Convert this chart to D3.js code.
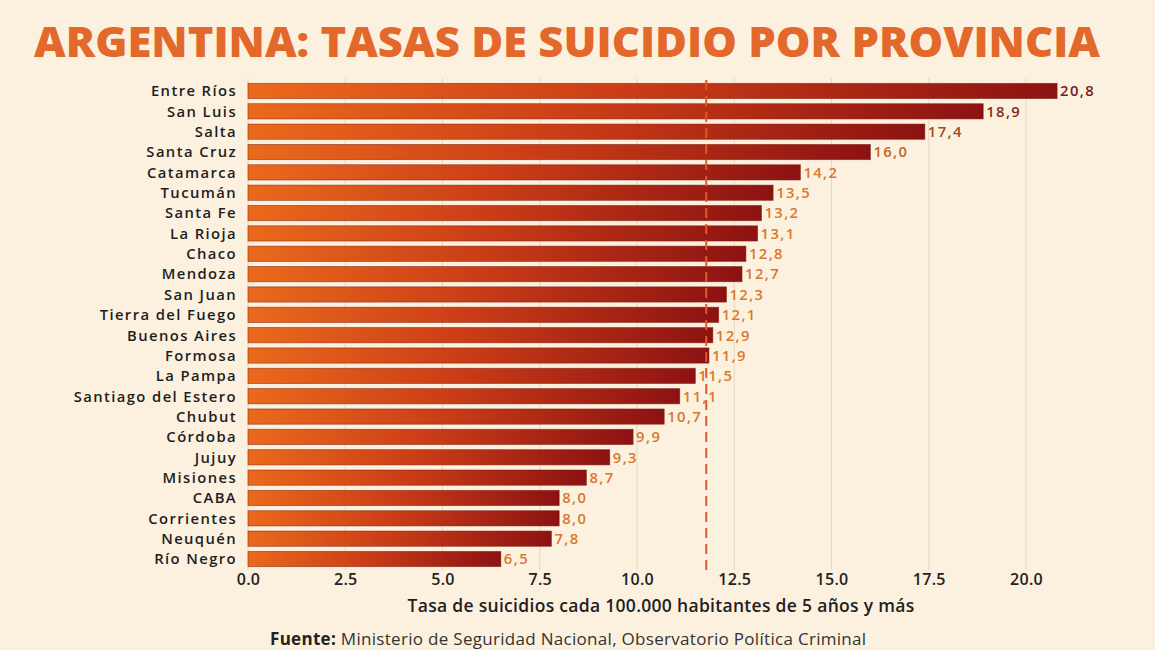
<!DOCTYPE html>
<html>
<head>
<meta charset="utf-8">
<script src="https://cdn.jsdelivr.net/npm/d3@7"></script>
<style>
  html, body { margin: 0; padding: 0; background: #fcf1df; }
  svg { display: block; }
</style>
</head>
<body>
<svg id="chart"></svg>
<script>
// Data
const provinces = ['Entre Ríos', 'San Luis', 'Salta', 'Santa Cruz', 'Catamarca', 'Tucumán', 'Santa Fe',
    'La Rioja', 'Chaco', 'Mendoza', 'San Juan', 'Tierra del Fuego', 'Buenos Aires', 'Formosa', 'La Pampa',
    'Santiago del Estero', 'Chubut', 'Córdoba', 'Jujuy', 'Misiones', 'CABA', 'Corrientes', 'Neuquén', 'Río Negro'];
// bar lengths as drawn
const rates = [20.8, 18.9, 17.4, 16.0, 14.2, 13.5, 13.2, 13.1, 12.8, 12.7, 12.3, 12.1, 11.95, 11.85, 11.5,
    11.1, 10.7, 9.9, 9.3, 8.7, 8.0, 8.0, 7.8, 6.5];
// printed labels (Buenos Aires is printed as 12,9 in the original)
const rateLabels = ['20,8', '18,9', '17,4', '16,0', '14,2', '13,5', '13,2', '13,1', '12,8', '12,7', '12,3', '12,1',
    '12,9', '11,9', '11,5', '11,1', '10,7', '9,9', '9,3', '8,7', '8,0', '8,0', '7,8', '6,5'];
const xTicks = [0, 2.5, 5, 7.5, 10, 12.5, 15, 17.5, 20];
const average = 11.78;

const width = 1155, height = 650;
const svg = d3.select('#chart').attr('width', width).attr('height', height);

svg.append('rect').attr('width', width).attr('height', height).attr('fill', '#fcf1df');

const data = provinces.map((p, i) => ({province: p, rate: rates[i], label: rateLabels[i]}));

// scales
const x = d3.scaleLinear().domain([0, 20]).range([248, 1026]);
const y = d3.scaleBand()
    .domain(provinces)
    .range([80.8, 569.2])
    .paddingInner(0.25)
    .paddingOuter(0.125);

// gradient along each bar
const defs = svg.append('defs');
const grad = defs.append('linearGradient')
    .attr('id', 'barGrad')
    .attr('x1', 0).attr('x2', 1).attr('y1', 0).attr('y2', 0);
grad.append('stop').attr('offset', '0%').attr('stop-color', '#ea6a1c');
grad.append('stop').attr('offset', '45%').attr('stop-color', '#cc3e17');
grad.append('stop').attr('offset', '100%').attr('stop-color', '#8c1212');

// title
svg.append('text')
    .attr('x', 567)
    .attr('y', 57)
    .attr('text-anchor', 'middle')
    .attr('font-family', 'Open Sans, sans-serif')
    .attr('font-weight', 800)
    .attr('font-size', 43)
    .attr('fill', '#e2692b')
    .attr('textLength', 1066)
    .attr('lengthAdjust', 'spacingAndGlyphs')
    .text('ARGENTINA: TASAS DE SUICIDIO POR PROVINCIA');

// grid lines
svg.append('g')
    .selectAll('line')
    .data(xTicks)
    .join('line')
    .attr('x1', d => x(d)).attr('x2', d => x(d))
    .attr('y1', 78).attr('y2', 570)
    .attr('stroke', '#e8d8c0')
    .attr('stroke-width', 1);

// x axis (labels only)
const xAxis = svg.append('g')
    .attr('transform', 'translate(0,570)')
    .call(d3.axisBottom(x).tickValues(xTicks).tickFormat(d3.format('.1f')).tickSize(0).tickPadding(4));
xAxis.select('.domain').remove();
xAxis.selectAll('text')
    .attr('font-family', 'Open Sans, sans-serif')
    .attr('font-weight', 600)
    .attr('font-size', 16)
    .attr('letter-spacing', '0.3')
    .attr('fill', '#222');

// bars
svg.append('g')
    .selectAll('rect')
    .data(data)
    .join('rect')
    .attr('x', x(0))
    .attr('y', d => y(d.province))
    .attr('width', d => x(d.rate) - x(0))
    .attr('height', y.bandwidth())
    .attr('fill', 'url(#barGrad)')
    .attr('stroke', '#7a1a0c')
    .attr('stroke-opacity', 0.6)
    .attr('stroke-width', 0.8);

// province labels
svg.append('g')
    .selectAll('text')
    .data(data)
    .join('text')
    .attr('x', 237)
    .attr('y', d => y(d.province) + y.bandwidth() / 2)
    .attr('dy', '0.36em')
    .attr('text-anchor', 'end')
    .attr('font-family', 'Open Sans, sans-serif')
    .attr('font-weight', 600)
    .attr('font-size', 14.8)
    .attr('letter-spacing', '1.4')
    .attr('fill', '#1e1e1e')
    .text(d => d.province);

// value labels
const labelColor = d3.scaleLinear()
    .domain([15, 19.5])
    .range(['#d9782f', '#74201a'])
    .clamp(true);
svg.append('g')
    .selectAll('text')
    .data(data)
    .join('text')
    .attr('x', d => x(d.rate) + 3)
    .attr('y', d => y(d.province) + y.bandwidth() / 2)
    .attr('dy', '0.36em')
    .attr('font-family', 'Open Sans, sans-serif')
    .attr('font-weight', 600)
    .attr('font-size', 14.8)
    .attr('letter-spacing', '1.4')
    .attr('fill', d => labelColor(d.rate))
    .text(d => d.label);

// average line
svg.append('line')
    .attr('x1', x(average)).attr('x2', x(average))
    .attr('y1', 80).attr('y2', 571)
    .attr('stroke', '#e2572a')
    .attr('stroke-width', 2)
    .attr('stroke-dasharray', '10,6');

// axis title
svg.append('text')
    .attr('x', 661)
    .attr('y', 612)
    .attr('text-anchor', 'middle')
    .attr('font-family', 'Open Sans, sans-serif')
    .attr('font-weight', 600)
    .attr('font-size', 17.5)
    .attr('letter-spacing', '0.3')
    .attr('fill', '#1e1e1e')
    .text('Tasa de suicidios cada 100.000 habitantes de 5 años y más');

// source
const source = svg.append('text')
    .attr('x', 270)
    .attr('y', 645)
    .attr('font-family', 'Open Sans, sans-serif')
    .attr('font-size', 17)
    .attr('letter-spacing', '0.3')
    .attr('fill', '#333');
source.append('tspan').attr('font-weight', 700).attr('fill', '#222').text('Fuente:');
source.append('tspan').text(' Ministerio de Seguridad Nacional, Observatorio Política Criminal');
</script>
</body>
</html>
